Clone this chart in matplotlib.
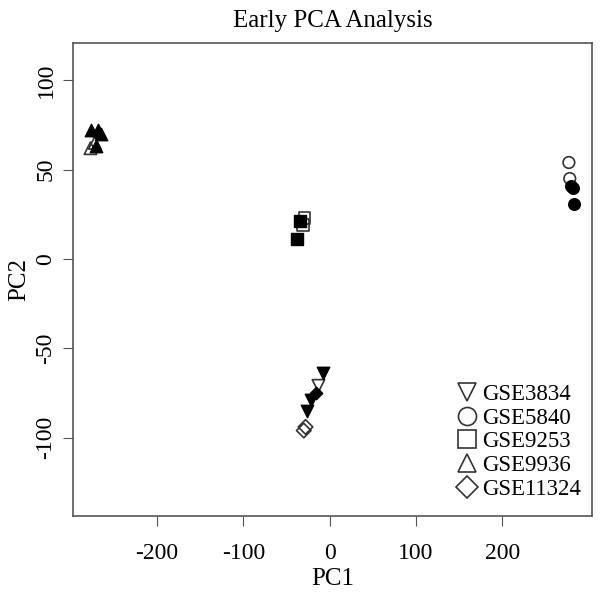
import matplotlib
matplotlib.use("Agg")
import matplotlib.pyplot as plt
from matplotlib.lines import Line2D

plt.rcParams['font.family'] = ['Liberation Serif', 'DejaVu Serif']
plt.rcParams['axes.unicode_minus'] = False

# GSE9936 (up triangles)
tri_filled_x = [-276, -268, -265, -271]
tri_filled_y = [72, 72, 70, 63]
tri_open_x = [-277, -272]
tri_open_y = [62, 65]

# GSE9253 (squares)
sq_filled_x = [-38, -34]
sq_filled_y = [11, 21]
sq_open_x = [-29, -31]
sq_open_y = [23, 19]

# GSE5840 (circles)
circ_filled_x = [280, 282, 283]
circ_filled_y = [41, 40, 31]
circ_open_x = [277, 278]
circ_open_y = [54, 45]

# GSE3834 (down triangles)
dtri_filled_x = [-8, -22, -26]
dtri_filled_y = [-64, -79, -85]
dtri_open_x = [-13]
dtri_open_y = [-71]

# GSE11324 (diamonds)
dia_filled_x = [-16]
dia_filled_y = [-75]
dia_open_x = [-28, -30]
dia_open_y = [-94, -96]

labels = ["GSE3834", "GSE5840", "GSE9253", "GSE9936", "GSE11324"]
shapes = ["v", "o", "s", "^", "D"]

fig = plt.figure(figsize=(6, 6.11), dpi=100)
ax = fig.add_axes([0.122, 0.155, 0.865, 0.775])

edge = '#333333'
def pts(x, y, m, filled, s=80):
    if filled:
        ax.scatter(x, y, marker=m, s=s, c='black', edgecolors='black', linewidths=1)
    else:
        ax.scatter(x, y, marker=m, s=s, facecolors='none', edgecolors=edge, linewidths=1.2)

pts(tri_open_x, tri_open_y, "^", False)
pts(tri_filled_x, tri_filled_y, "^", True)
pts(sq_open_x, sq_open_y, "s", False, 70)
pts(sq_filled_x, sq_filled_y, "s", True, 70)
pts(circ_open_x, circ_open_y, "o", False, 70)
pts(circ_filled_x, circ_filled_y, "o", True, 70)
pts(dtri_open_x, dtri_open_y, "v", False)
pts(dtri_filled_x, dtri_filled_y, "v", True)
pts(dia_open_x, dia_open_y, "D", False, 55)
pts(dia_filled_x, dia_filled_y, "D", True, 40)

ax.set_xlim(-297, 304)
ax.set_ylim(-144, 121)
ax.set_xticks([-200, -100, 0, 100, 200])
ax.set_yticks([-100, -50, 0, 50, 100])
ax.set_yticklabels(['-100', '-50', '0', '50', '100'], rotation=90, va='center')
ax.tick_params(labelsize=17, length=7, color='#555555', direction='out')
ax.tick_params(axis='x', pad=12)
ax.tick_params(axis='y', pad=5)
for sp in ax.spines.values():
    sp.set_color('#555555')
    sp.set_linewidth(1.2)

ax.set_xlabel("PC1", fontsize=18, labelpad=3)
ax.set_ylabel("PC2", fontsize=18, labelpad=4)
ax.set_title("Early PCA Analysis", fontsize=18, pad=11)

handles = [Line2D([], [], marker=m, linestyle='none', markerfacecolor='none',
                  markeredgecolor=edge, markersize=13 if m != "D" else 11,
                  markeredgewidth=1.2) for m in shapes]
ax.legend(handles, labels, loc='lower right', frameon=False, fontsize=16.5,
          handletextpad=0.15, labelspacing=0.12, borderaxespad=0.0, handlelength=1.1,
          bbox_to_anchor=(0.997, 0.015))

fig.savefig("out.png", dpi=100)
